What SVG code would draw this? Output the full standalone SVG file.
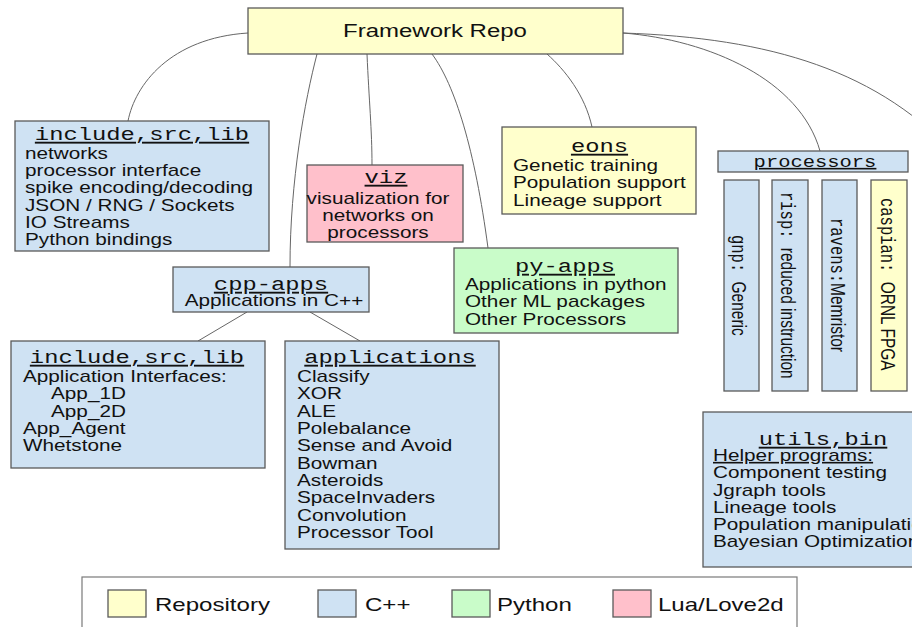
<svg xmlns="http://www.w3.org/2000/svg" width="912" height="627" viewBox="0 0 912 627">
<style>
.box{stroke:#5a5a5a;stroke-width:1.3}
.repo{fill:#ffffcc}
.cpp{fill:#cfe2f3}
.py{fill:#c9fcc9}
.lua{fill:#ffc0cb}
.conn{fill:none;stroke:#666;stroke-width:1}
.t{font-family:"Liberation Sans",Arial,sans-serif;font-size:16.2px;fill:#111}
.h{font-family:"Liberation Mono","DejaVu Sans Mono",monospace;font-size:18.6px;fill:#111;text-decoration:underline;text-anchor:middle}
.m{font-family:"Liberation Mono","DejaVu Sans Mono",monospace}
.r{font-family:"Liberation Sans",Arial,sans-serif;font-size:15.5px;fill:#111}
.c{text-anchor:middle}
.lg{font-family:"Liberation Sans",Arial,sans-serif;font-size:18.8px;fill:#111}
</style>
<rect x="0" y="0" width="912" height="627" fill="#ffffff"/>
<g id="connectors" class="conn">
<path d="M248,33 C170,38 135,85 128,121"/>
<path d="M317,54 C305,100 290,180 290,267"/>
<path d="M367,54 C369,100 372,130 372,165"/>
<path d="M432,54 C455,85 475,150 488,248"/>
<path d="M547,54 C565,70 585,95 592,127"/>
<path d="M623,33 C710,40 800,80 820,151"/>
<path d="M623,33 C770,38 880,70 960,160"/>
<path d="M247,312 L198,341"/>
<path d="M310,312 L360,341"/>
</g>
<g id="framework">
<rect class="box repo" x="248" y="8" width="375" height="46"/>
<text class="t c" style="font-size:18.75px" transform="translate(435,37) scale(1.28,1)">Framework Repo</text>
</g>
<g id="include-top">
<rect class="box cpp" x="15" y="121" width="254" height="130"/>
<text class="h" transform="translate(142,140) scale(1.28,1)">include,src,lib</text>
<g class="t" transform="translate(25,0) scale(1.28,1)">
<text y="159">networks</text>
<text y="176">processor interface</text>
<text y="193">spike encoding/decoding</text>
<text y="211">JSON / RNG / Sockets</text>
<text y="228">IO Streams</text>
<text y="245">Python bindings</text>
</g>
</g>
<g id="viz">
<rect class="box lua" x="307" y="165" width="156" height="77"/>
<text class="h" transform="translate(386,183) scale(1.28,1)">viz</text>
<g class="t c" transform="translate(378,0) scale(1.28,1)">
<text y="204">visualization for</text>
<text y="221">networks on</text>
<text y="238">processors</text>
</g>
</g>
<g id="cpp-apps">
<rect class="box cpp" x="173" y="267" width="196" height="45"/>
<text class="h" transform="translate(271,290) scale(1.28,1)">cpp-apps</text>
<text class="t c" transform="translate(274,306) scale(1.28,1)">Applications in C++</text>
</g>
<g id="eons">
<rect class="box repo" x="502" y="127" width="194" height="87"/>
<text class="h" transform="translate(599.5,152) scale(1.28,1)">eons</text>
<g class="t" transform="translate(513,0) scale(1.28,1)">
<text y="171">Genetic training</text>
<text y="188">Population support</text>
<text y="206">Lineage support</text>
</g>
</g>
<g id="py-apps">
<rect class="box py" x="454" y="248" width="224" height="85"/>
<text class="h" transform="translate(565,272) scale(1.28,1)">py-apps</text>
<g class="t" transform="translate(465,0) scale(1.28,1)">
<text y="290">Applications in python</text>
<text y="307">Other ML packages</text>
<text y="325">Other Processors</text>
</g>
</g>
<g id="processors">
<rect class="box cpp" x="718" y="151" width="190" height="21"/>
<text class="h" style="font-size:16px" transform="translate(815,167) scale(1.28,1)">processors</text>
</g>
<g id="gnp">
<rect class="box cpp" x="724" y="180" width="35" height="211"/>
<text class="r" transform="translate(732,235) scale(1.28,1) rotate(90)"><tspan class="m">gnp: </tspan>Generic</text>
</g>
<g id="risp">
<rect class="box cpp" x="772" y="180" width="36" height="211"/>
<text class="r" transform="translate(781,192) scale(1.28,1) rotate(90)"><tspan class="m">risp: </tspan>reduced instruction</text>
</g>
<g id="ravens">
<rect class="box cpp" x="822" y="180" width="35" height="211"/>
<text class="r" transform="translate(831,218) scale(1.28,1) rotate(90)"><tspan class="m">ravens:</tspan>Memristor</text>
</g>
<g id="caspian">
<rect class="box repo" x="871" y="180" width="36" height="211"/>
<text class="r" transform="translate(881,198) scale(1.28,1) rotate(90)"><tspan class="m">caspian: </tspan>ORNL FPGA</text>
</g>
<g id="include-apps">
<rect class="box cpp" x="11" y="341" width="254" height="127"/>
<text class="h" transform="translate(137,363) scale(1.28,1)">include,src,lib</text>
<g class="t" transform="translate(23,0) scale(1.28,1)">
<text y="382">Application Interfaces:</text>
<text x="21.9" y="399">App_1D</text>
<text x="21.9" y="417">App_2D</text>
<text y="434">App_Agent</text>
<text y="451">Whetstone</text>
</g>
</g>
<g id="applications">
<rect class="box cpp" x="285" y="341" width="214" height="208"/>
<text class="h" transform="translate(390,363) scale(1.28,1)">applications</text>
<g class="t" transform="translate(297,0) scale(1.28,1)">
<text y="382">Classify</text>
<text y="399.4">XOR</text>
<text y="416.7">ALE</text>
<text y="434">Polebalance</text>
<text y="451.4">Sense and Avoid</text>
<text y="468.8">Bowman</text>
<text y="486.1">Asteroids</text>
<text y="503.5">SpaceInvaders</text>
<text y="520.8">Convolution</text>
<text y="538">Processor Tool</text>
</g>
</g>
<g id="utils">
<rect class="box cpp" x="703" y="412" width="230" height="155"/>
<text class="h" transform="translate(823,445) scale(1.28,1)">utils,bin</text>
<g class="t" transform="translate(713,0) scale(1.28,1)">
<text y="461" text-decoration="underline">Helper programs:</text>
<text y="478">Component testing</text>
<text y="496">Jgraph tools</text>
<text y="513">Lineage tools</text>
<text y="530">Population manipulation</text>
<text y="547">Bayesian Optimization</text>
</g>
</g>
<g id="legend">
<rect x="82" y="577" width="715" height="70" fill="#ffffff" stroke="#7a7a7a" stroke-width="1.2"/>
<rect class="box repo" x="108" y="590" width="38" height="27"/>
<text class="lg" transform="translate(155,611) scale(1.28,1)">Repository</text>
<rect class="box cpp" x="318" y="590" width="38" height="27"/>
<text class="lg" transform="translate(365,611) scale(1.28,1)">C++</text>
<rect class="box py" x="452" y="590" width="38" height="27"/>
<text class="lg" transform="translate(497,611) scale(1.28,1)">Python</text>
<rect class="box lua" x="613" y="590" width="38" height="27"/>
<text class="lg" transform="translate(658,611) scale(1.28,1)">Lua/Love2d</text>
</g>
</svg>
